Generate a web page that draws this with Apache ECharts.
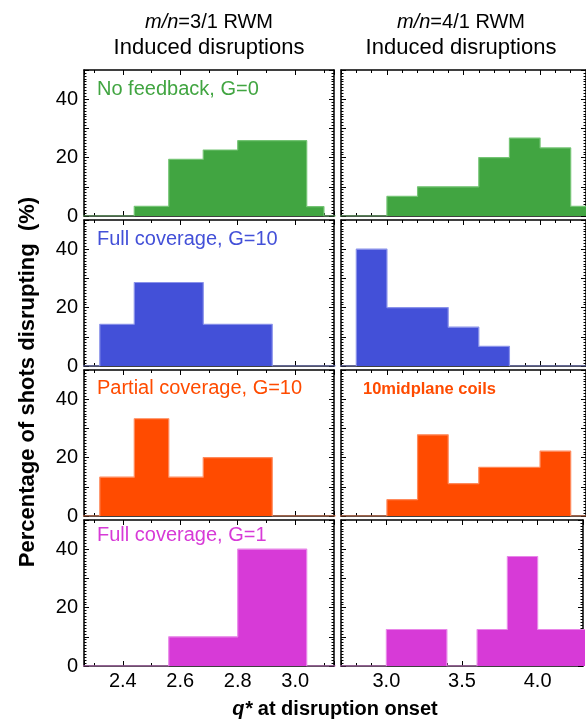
<!DOCTYPE html>
<html><head><meta charset="utf-8">
<script src="https://cdn.jsdelivr.net/npm/echarts@6/dist/echarts.min.js"></script>
<style>html,body{margin:0;padding:0;background:#fff}#c{width:586px;height:722px}</style>
</head><body><div id="c"></div>
<script>
// ---------------- data ----------------
const colHeadMode = ['3/1', '4/1'];
const colHeadLine2 = 'Induced disruptions';
const panelLabels = ['No feedback, G=0', 'Full coverage, G=10', 'Partial coverage, G=10', 'Full coverage, G=1'];
const extraLabel = '10midplane coils';
const yTitle = 'Percentage of shots disrupting  (%)';
const xTitleRest = ' at disruption onset';
const yTickLabels = ['0', '20', '40'];
const xTickLabels31 = ['2.4', '2.6', '2.8', '3.0'];
const xTickLabels41 = ['3.0', '3.5', '4.0'];

// m/n = 3/1 column: bin edges (q*) and percentage per bin
const noFb31Edges = [2.20, 2.44, 2.56, 2.68, 2.80, 2.92, 3.04, 3.10, 3.16];
const noFb31Pct   = [0, 3.3, 19.4, 22.6, 25.8, 25.8, 3.2, 0];
const full10_31Edges = [2.20, 2.32, 2.44, 2.56, 2.68, 2.80, 2.92, 3.16];
const full10_31Pct   = [0, 14.3, 28.6, 28.6, 14.3, 14.3, 0];
const part10_31Edges = [2.20, 2.32, 2.44, 2.56, 2.68, 2.80, 2.92, 3.16];
const part10_31Pct   = [0, 13.3, 33.3, 13.3, 20.0, 20.0, 0];
const full1_31Edges = [2.20, 2.56, 2.68, 2.80, 2.92, 3.04, 3.16];
const full1_31Pct   = [0, 10.0, 10.0, 40.0, 40.0, 0];

// m/n = 4/1 column
const noFb41Edges = [2.6, 3.0, 3.2, 3.4, 3.6, 3.8, 4.0, 4.2, 4.4];
const noFb41Pct   = [0, 6.7, 10.0, 10.0, 20.0, 26.7, 23.3, 3.3];
const full10_41Edges = [2.6, 2.8, 3.0, 3.2, 3.4, 3.6, 3.8, 4.4];
const full10_41Pct   = [0, 40.0, 20.0, 20.0, 13.3, 6.7, 0];
const part10_41Edges = [2.6, 3.0, 3.2, 3.4, 3.6, 3.8, 4.0, 4.2, 4.4];
const part10_41Pct   = [0, 5.6, 27.8, 11.1, 16.7, 16.7, 22.2, 0];
const full1_41Edges = [2.6, 3.0, 3.2, 3.4, 3.6, 3.8, 4.0, 4.4];
const full1_41Pct   = [0, 12.5, 12.5, 0, 12.5, 37.5, 12.5];

const q31Range = [2.265, 3.135];
const q41Range = [2.7, 4.3];
const pctRange = [0, 50];

// ---------------- layout / style ----------------
const FONT = '"Liberation Sans", Arial, Helvetica, sans-serif';
const colors = [
  {fill: '#41a541', edge: '#74c474'},
  {fill: '#4350d8', edge: '#8a92ea'},
  {fill: '#ff4b00', edge: '#ff8a5c'},
  {fill: '#d73ad7', edge: '#e886e8'}
];
const rowTop = [70, 220, 370, 520];
const rowH = 146;
const colLeft = [84, 341];
const colW = [250, 253];

const panels = [
  [[noFb31Edges, noFb31Pct], [noFb41Edges, noFb41Pct]],
  [[full10_31Edges, full10_31Pct], [full10_41Edges, full10_41Pct]],
  [[part10_31Edges, part10_31Pct], [part10_41Edges, part10_41Pct]],
  [[full1_31Edges, full1_31Pct], [full1_41Edges, full1_41Pct]]
];

const grids = [], xAxes = [], yAxes = [], series = [];
function fmtX(list) { return v => { const s = v.toFixed(1); return list.includes(s) && Math.abs(v - parseFloat(s)) < 1e-6 ? s : ''; }; }
function fmtY(v) { const s = String(Math.round(v)); return yTickLabels.includes(s) && Math.abs(v - Math.round(v)) < 1e-6 ? s : ''; }

for (let r = 0; r < 4; r++) {
  for (let c = 0; c < 2; c++) {
    const gi = grids.length;
    grids.push({left: colLeft[c], top: rowTop[r], width: colW[c], height: rowH, containLabel: false});
    const rng = c === 0 ? q31Range : q41Range;
    const minorSplit = c === 0 ? 2 : 5;
    const split = c === 0 ? 4 : 3;
    const baseX = {
      type: 'value', gridIndex: gi, min: rng[0], max: rng[1], splitNumber: split,
      axisLine: {show: true, onZero: false, lineStyle: {color: '#000', width: 1.5}},
      axisTick: {show: true, inside: true, length: 5, lineStyle: {color: '#000', width: 1}},
      minorTick: {show: true, splitNumber: minorSplit, length: 3, lineStyle: {color: '#000', width: 1}},
      splitLine: {show: false}, minorSplitLine: {show: false}
    };
    const bottomX = Object.assign({}, baseX, {position: 'bottom',
      axisLabel: {show: r === 3, formatter: fmtX(c === 0 ? xTickLabels31 : xTickLabels41), color: '#000',
        fontSize: 20, fontFamily: FONT, margin: 5, hideOverlap: false}});
    const topX = Object.assign({}, baseX, {position: 'top', axisLabel: {show: false}});
    const xi = xAxes.length;
    xAxes.push(bottomX, topX);
    const baseY = {
      type: 'value', gridIndex: gi, min: pctRange[0], max: pctRange[1], interval: 10,
      axisLine: {show: true, onZero: false, lineStyle: {color: '#000', width: 1.5}},
      axisTick: {show: true, inside: true, length: 5, lineStyle: {color: '#000', width: 1}},
      minorTick: {show: true, splitNumber: 10, length: 2.5, lineStyle: {color: '#000', width: 1}},
      splitLine: {show: false}, minorSplitLine: {show: false}
    };
    const leftY = Object.assign({}, baseY, {position: 'left',
      axisLabel: {show: c === 0, formatter: fmtY, color: '#000', fontSize: 20, fontFamily: FONT, margin: 6}});
    const rightY = Object.assign({}, baseY, {position: 'right', axisLabel: {show: false}});
    const yi = yAxes.length;
    yAxes.push(leftY, rightY);

    const [edges, vals] = panels[r][c];
    const data = vals.map((v, i) => [edges[i], v]);
    data.push([edges[edges.length - 1], 0]);
    series.push({
      type: 'line', xAxisIndex: xi, yAxisIndex: yi, step: 'end', symbol: 'none', clip: true,
      data: data, z: 1,
      lineStyle: {color: colors[r].edge, width: 1.2},
      areaStyle: {color: colors[r].fill, opacity: 1}
    });
  }
}

const graphics = [];
const headX = [209, 461];
for (let c = 0; c < 2; c++) {
  graphics.push({type: 'text', x: headX[c], y: 22, style: {
    text: '{i|m/n}{n|=' + colHeadMode[c] + ' RWM}', align: 'center', verticalAlign: 'middle',
    fontSize: 20, fontFamily: FONT, fill: '#000',
    rich: {i: {fontStyle: 'italic', fontSize: 20, fontFamily: FONT, fill: '#000'},
           n: {fontSize: 20, fontFamily: FONT, fill: '#000'}}}});
  graphics.push({type: 'text', x: headX[c], y: 48, style: {
    text: colHeadLine2, align: 'center', verticalAlign: 'middle', fontSize: 22, fontFamily: FONT, fill: '#000'}});
}
const labelY = [89, 239, 388, 535];
for (let r = 0; r < 4; r++) {
  graphics.push({type: 'text', x: 97, y: labelY[r], style: {
    text: panelLabels[r], align: 'left', verticalAlign: 'middle', fontSize: 20, fontFamily: FONT, fill: colors[r].fill}});
}
graphics.push({type: 'text', x: 363, y: 389, style: {
  text: extraLabel, align: 'left', verticalAlign: 'middle', fontSize: 16.5, fontWeight: 'bold', fontFamily: FONT, fill: colors[2].fill}});
graphics.push({type: 'text', x: 28, y: 382, rotation: Math.PI / 2, style: {
  text: yTitle, align: 'center', verticalAlign: 'middle', fontSize: 22, fontWeight: 'bold', fontFamily: FONT, fill: '#000'}});
graphics.push({type: 'text', x: 335, y: 709, style: {
  text: '{q|q*}{b|' + xTitleRest + '}', align: 'center', verticalAlign: 'middle', fontSize: 20, fontWeight: 'bold', fontFamily: FONT, fill: '#000',
  rich: {q: {fontStyle: 'italic', fontWeight: 'bold', fontSize: 20, fontFamily: FONT, fill: '#000'},
         b: {fontWeight: 'bold', fontSize: 20, fontFamily: FONT, fill: '#000'}}}});

const chart = echarts.init(document.getElementById('c'), null, {renderer: 'canvas'});
chart.setOption({
  animation: false,
  backgroundColor: '#fff',
  grid: grids, xAxis: xAxes, yAxis: yAxes, series: series,
  graphic: {elements: graphics}
});
</script></body></html>
